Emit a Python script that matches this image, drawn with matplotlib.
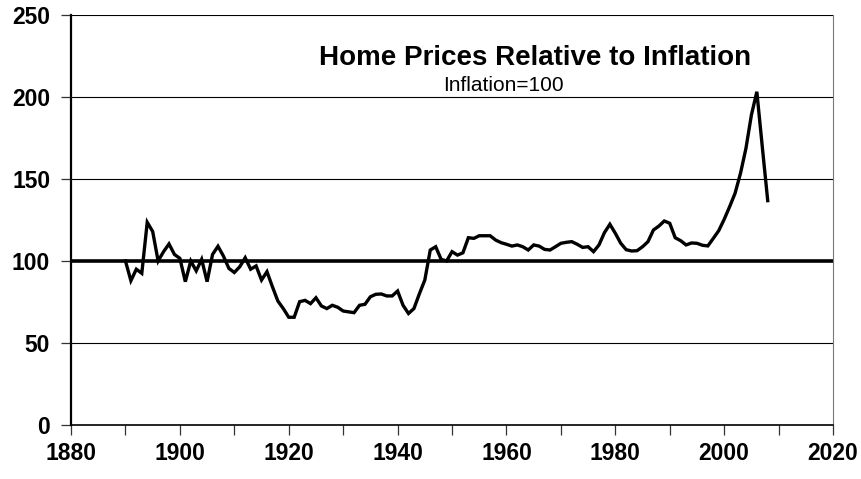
import numpy as np
import matplotlib.pyplot as plt
from matplotlib.ticker import MultipleLocator, FuncFormatter

# Real home price index, 1890 = 100
years = list(range(1890, 2009))
index = [
    100, 88, 95, 92.5, 123.6, 118, 100, 105.7, 110.4, 104,      # 1890-1899
    101.6, 87.4, 100, 94, 101, 87.4, 104, 109, 103, 95.5,       # 1900-1909
    93, 96.5, 102, 95, 97, 88.4, 93.5, 84.3, 75.6, 71,          # 1910-1919
    65.7, 65.7, 75.2, 76, 74, 77.6, 72.6, 71, 73, 71.8,         # 1920-1929
    69.5, 69, 68.5, 73, 73.6, 78.2, 79.7, 79.9, 78.7, 78.7,     # 1930-1939
    81.7, 73, 68, 71, 80, 88.4, 106.7, 108.7, 101, 100,         # 1940-1949
    105.7, 103.6, 105, 114.2, 113.8, 115.4, 115.4, 115.4, 112.8, 111.2,  # 1950-1959
    110.2, 109.1, 109.8, 108.7, 106.7, 109.8, 109.1, 107.1, 106.7, 108.7,  # 1960-1969
    110.8, 111.4, 111.8, 110.2, 108.3, 108.7, 105.7, 109.8, 117.3, 122.4,  # 1970-1979
    116.9, 110.8, 106.9, 106.1, 106.3, 108.7, 111.8, 118.9, 121.3, 124.4,  # 1980-1989
    123, 114.2, 112.4, 109.8, 111, 110.8, 109.6, 109.2, 113.8, 118.5,      # 1990-1999
    125.4, 133.1, 141.3, 153.5, 168.7, 189, 203.2, 169.7, 136.8,           # 2000-2008
]

font = 'Liberation Sans'

fig = plt.figure(figsize=(8.62, 4.79), dpi=100)
ax = fig.add_axes([0.0824, 0.1127, 0.8840, 0.8560])

# horizontal grid, with a heavy reference line at 100
for lvl in [50, 150, 200, 250]:
    ax.axhline(lvl, color='black', linewidth=0.8, zorder=1)
ax.axhline(100, color='black', linewidth=2.6, zorder=2)

ax.plot(years, index, color='black', linewidth=2.4, zorder=3, solid_joinstyle='miter')

ax.set_xlim(1880, 2020)
ax.set_ylim(0, 250)
ax.xaxis.set_major_locator(MultipleLocator(10))
ax.yaxis.set_major_locator(MultipleLocator(50))
ax.xaxis.set_major_formatter(FuncFormatter(lambda v, p: f'{int(v)}' if int(v) % 20 == 0 else ''))

ax.tick_params(axis='both', direction='out', length=7, width=0.9, color='#333333')
ax.tick_params(axis='x', pad=5)
ax.tick_params(axis='y', pad=8)
for lab in ax.get_xticklabels() + ax.get_yticklabels():
    lab.set_fontfamily(font)
    lab.set_fontweight('bold')
    lab.set_fontsize(16.5)

ax.spines['left'].set_linewidth(1.6)
ax.spines['bottom'].set_linewidth(1.2)
ax.spines['right'].set_linewidth(0.8)
ax.spines['right'].set_color('#777777')
ax.spines['top'].set_visible(False)

ax.text(0.609, 224, 'Home Prices Relative to Inflation', transform=ax.get_yaxis_transform(),
        ha='center', va='center', fontsize=20, fontweight='bold', family=font)
ax.text(0.567, 207, 'Inflation=100', transform=ax.get_yaxis_transform(),
        ha='center', va='center', fontsize=15, family=font)

fig.savefig('out.png', dpi=100)
